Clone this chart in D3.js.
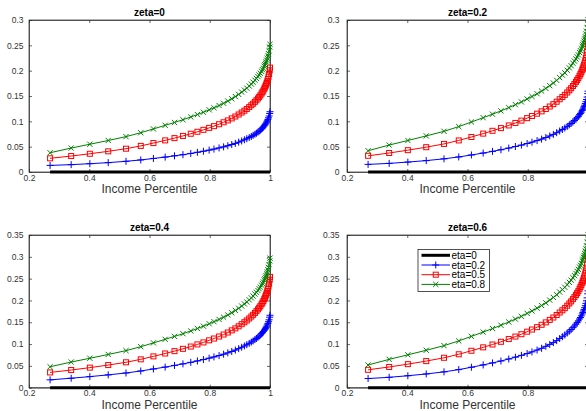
<!DOCTYPE html>
<html>
<head>
<meta charset="utf-8">
<script src="https://cdn.jsdelivr.net/npm/d3@7"></script>
<style>
  html, body { margin: 0; padding: 0; background: #fff; overflow: hidden; }
  svg { display: block; font-family: "Liberation Sans", Arial, Helvetica, sans-serif; }
</style>
</head>
<body>
<svg id="chart" width="586" height="411"></svg>
<script>
// Income percentile grid shared by every curve
const percentile = [0.270,0.340,0.402,0.463,0.522,0.571,0.613,0.652,0.683,0.711,0.737,0.759,0.779,0.798,0.814,0.831,0.846,0.860,0.873,0.885,0.896,0.906,0.915,0.923,0.931,0.938,0.944,0.950,0.955,0.960,0.964,0.968,0.972,0.975,0.978,0.981,0.983,0.985,0.987,0.989,0.991,0.993,0.995,0.997,0.999,1.000];

// eta = 0 is flat at zero in every panel
const etaZero = [0,0,0,0,0,0,0,0,0,0,0,0,0,0,0,0,0,0,0,0,0,0,0,0,0,0,0,0,0,0,0,0,0,0,0,0,0,0,0,0,0,0,0,0,0,0];

// zeta = 0
const zeta0_eta02 = [0.0130,0.0145,0.0164,0.0185,0.0211,0.0238,0.0267,0.0294,0.0319,0.0342,0.0366,0.0389,0.0410,0.0432,0.0452,0.0475,0.0496,0.0519,0.0542,0.0565,0.0589,0.0613,0.0636,0.0657,0.0680,0.0702,0.0723,0.0745,0.0765,0.0787,0.0806,0.0826,0.0850,0.0868,0.0888,0.0911,0.0928,0.0946,0.0965,0.0986,0.1011,0.1038,0.1069,0.1105,0.1154,0.1190];
const zeta0_eta05 = [0.0270,0.0315,0.0360,0.0408,0.0460,0.0515,0.0571,0.0624,0.0669,0.0712,0.0755,0.0794,0.0832,0.0871,0.0905,0.0943,0.0981,0.1018,0.1058,0.1095,0.1135,0.1174,0.1210,0.1244,0.1281,0.1317,0.1349,0.1385,0.1417,0.1451,0.1482,0.1512,0.1548,0.1577,0.1607,0.1643,0.1668,0.1697,0.1725,0.1757,0.1793,0.1834,0.1881,0.1935,0.2006,0.2060];
const zeta0_eta08 = [0.0380,0.0473,0.0548,0.0622,0.0698,0.0775,0.0850,0.0921,0.0978,0.1032,0.1086,0.1134,0.1179,0.1227,0.1267,0.1312,0.1356,0.1400,0.1445,0.1489,0.1532,0.1577,0.1617,0.1655,0.1697,0.1736,0.1772,0.1812,0.1847,0.1882,0.1916,0.1949,0.1987,0.2018,0.2050,0.2088,0.2114,0.2145,0.2175,0.2208,0.2246,0.2288,0.2337,0.2392,0.2465,0.2520];

// zeta = 0.2
const zeta02_eta02 = [0.0150,0.0170,0.0196,0.0225,0.0260,0.0297,0.0336,0.0374,0.0407,0.0439,0.0472,0.0503,0.0531,0.0562,0.0589,0.0620,0.0649,0.0680,0.0712,0.0742,0.0776,0.0809,0.0839,0.0868,0.0900,0.0930,0.0958,0.0988,0.1016,0.1046,0.1072,0.1099,0.1131,0.1156,0.1183,0.1215,0.1238,0.1263,0.1289,0.1318,0.1351,0.1388,0.1430,0.1479,0.1546,0.1595];
const zeta02_eta05 = [0.0320,0.0375,0.0431,0.0490,0.0554,0.0623,0.0691,0.0758,0.0813,0.0866,0.0919,0.0968,0.1014,0.1063,0.1105,0.1151,0.1197,0.1244,0.1292,0.1339,0.1387,0.1436,0.1480,0.1522,0.1569,0.1613,0.1653,0.1697,0.1737,0.1779,0.1816,0.1854,0.1898,0.1933,0.1971,0.2015,0.2046,0.2081,0.2117,0.2157,0.2201,0.2252,0.2309,0.2375,0.2464,0.2530];
const zeta02_eta08 = [0.0420,0.0532,0.0622,0.0712,0.0803,0.0896,0.0987,0.1072,0.1141,0.1206,0.1271,0.1329,0.1383,0.1441,0.1490,0.1544,0.1597,0.1650,0.1704,0.1756,0.1809,0.1863,0.1912,0.1957,0.2008,0.2055,0.2098,0.2147,0.2189,0.2231,0.2272,0.2311,0.2358,0.2394,0.2433,0.2479,0.2511,0.2547,0.2584,0.2624,0.2669,0.2721,0.2779,0.2845,0.2934,0.3000];

// zeta = 0.4
const zeta04_eta02 = [0.0180,0.0217,0.0254,0.0294,0.0337,0.0383,0.0429,0.0473,0.0510,0.0546,0.0581,0.0614,0.0645,0.0677,0.0705,0.0736,0.0768,0.0799,0.0831,0.0862,0.0895,0.0927,0.0957,0.0985,0.1016,0.1046,0.1072,0.1102,0.1129,0.1157,0.1182,0.1207,0.1237,0.1260,0.1286,0.1315,0.1336,0.1360,0.1383,0.1410,0.1439,0.1474,0.1512,0.1556,0.1616,0.1660];
const zeta04_eta05 = [0.0350,0.0405,0.0460,0.0519,0.0582,0.0650,0.0718,0.0784,0.0838,0.0891,0.0943,0.0992,0.1038,0.1086,0.1127,0.1173,0.1219,0.1265,0.1314,0.1360,0.1408,0.1456,0.1500,0.1541,0.1587,0.1631,0.1671,0.1714,0.1754,0.1795,0.1833,0.1870,0.1914,0.1949,0.1986,0.2030,0.2060,0.2095,0.2130,0.2170,0.2214,0.2264,0.2321,0.2387,0.2474,0.2540];
const zeta04_eta08 = [0.0480,0.0588,0.0675,0.0762,0.0850,0.0940,0.1027,0.1109,0.1176,0.1238,0.1301,0.1357,0.1410,0.1466,0.1513,0.1565,0.1616,0.1667,0.1719,0.1770,0.1821,0.1872,0.1920,0.1964,0.2013,0.2058,0.2100,0.2146,0.2187,0.2228,0.2268,0.2305,0.2350,0.2386,0.2423,0.2467,0.2498,0.2533,0.2568,0.2607,0.2651,0.2701,0.2757,0.2821,0.2907,0.2970];

// zeta = 0.6
const zeta06_eta02 = [0.0210,0.0238,0.0274,0.0315,0.0363,0.0415,0.0469,0.0522,0.0568,0.0612,0.0658,0.0700,0.0741,0.0783,0.0821,0.0863,0.0903,0.0948,0.0992,0.1034,0.1080,0.1127,0.1169,0.1209,0.1253,0.1295,0.1334,0.1376,0.1414,0.1456,0.1492,0.1531,0.1575,0.1609,0.1647,0.1691,0.1724,0.1758,0.1794,0.1834,0.1880,0.1933,0.1991,0.2059,0.2152,0.2220];
const zeta06_eta05 = [0.0410,0.0475,0.0540,0.0610,0.0686,0.0766,0.0847,0.0925,0.0990,0.1052,0.1115,0.1172,0.1226,0.1284,0.1333,0.1388,0.1442,0.1497,0.1554,0.1609,0.1666,0.1723,0.1775,0.1824,0.1879,0.1931,0.1978,0.2030,0.2077,0.2126,0.2170,0.2214,0.2266,0.2308,0.2352,0.2404,0.2441,0.2482,0.2524,0.2571,0.2623,0.2682,0.2750,0.2828,0.2932,0.3010];
const zeta06_eta08 = [0.0520,0.0650,0.0754,0.0858,0.0964,0.1072,0.1177,0.1275,0.1355,0.1431,0.1506,0.1573,0.1636,0.1703,0.1760,0.1823,0.1884,0.1945,0.2008,0.2069,0.2130,0.2192,0.2249,0.2301,0.2360,0.2415,0.2465,0.2521,0.2570,0.2619,0.2667,0.2712,0.2765,0.2808,0.2853,0.2906,0.2943,0.2986,0.3028,0.3075,0.3127,0.3186,0.3254,0.3331,0.3434,0.3510];

const panelTitles = ["zeta=0", "zeta=0.2", "zeta=0.4", "zeta=0.6"];
const legendLabels = ["eta=0", "eta=0.2", "eta=0.5", "eta=0.8"];
const xLabel = "Income Percentile";
const xDomain = [0.2, 1];
const xTicks = [0.2, 0.4, 0.6, 0.8, 1];
const yTicksLow = [0, 0.05, 0.1, 0.15, 0.2, 0.25, 0.3];
const yTicksHigh = [0, 0.05, 0.1, 0.15, 0.2, 0.25, 0.3, 0.35];

// Line / marker styles, one per eta value
const styles = [
  { color: "#000000", width: 3, marker: null },
  { color: "#0000ff", width: 1, marker: "plus" },
  { color: "#ff0000", width: 1, marker: "square" },
  { color: "#008000", width: 1, marker: "cross" }
];

const W = 586;
const panels = [
  { title: panelTitles[0], left: 29,  top: 20,  w: 241, h: 152,   yMax: 0.3,  yTicks: yTicksLow,  series: [etaZero, zeta0_eta02, zeta0_eta05, zeta0_eta08], labelGap: 2.5 },
  { title: panelTitles[1], left: 347, top: 20,  w: 241, h: 152,   yMax: 0.3,  yTicks: yTicksLow,  series: [etaZero, zeta02_eta02, zeta02_eta05, zeta02_eta08], labelGap: 4.5 },
  { title: panelTitles[2], left: 29,  top: 235, w: 241, h: 152.7, yMax: 0.35, yTicks: yTicksHigh, series: [etaZero, zeta04_eta02, zeta04_eta05, zeta04_eta08], labelGap: 2.5 },
  { title: panelTitles[3], left: 347, top: 235, w: 241, h: 152.7, yMax: 0.35, yTicks: yTicksHigh, series: [etaZero, zeta06_eta02, zeta06_eta05, zeta06_eta08], labelGap: 4.5, legend: true }
];

const svg = d3.select("#chart");
const axisColor = "#262626";
const textColor = "#333333";
const fmt = d3.format("~g");

function drawMarker(g, type, color) {
  if (type === "plus") {
    g.append("path").attr("d", "M-3.5,0H3.5M0,-3.5V3.5")
      .attr("stroke", color).attr("stroke-width", 1).attr("fill", "none");
  } else if (type === "square") {
    g.append("rect").attr("x", -2.5).attr("y", -2.5).attr("width", 5).attr("height", 5)
      .attr("stroke", color).attr("stroke-width", 1).attr("fill", "none");
  } else if (type === "cross") {
    g.append("path").attr("d", "M-2.6,-2.6L2.6,2.6M-2.6,2.6L2.6,-2.6")
      .attr("stroke", color).attr("stroke-width", 1).attr("fill", "none");
  }
}

panels.forEach(p => {
  const x = d3.scaleLinear().domain(xDomain).range([p.left, p.left + p.w]);
  const y = d3.scaleLinear().domain([0, p.yMax]).range([p.top + p.h, p.top]);
  const g = svg.append("g");

  // Frame
  g.append("rect")
    .attr("x", p.left).attr("y", p.top).attr("width", p.w).attr("height", p.h)
    .attr("fill", "#fff").attr("stroke", axisColor).attr("stroke-width", 0.7);

  // Axes with inward ticks (bottom/left labelled, top/right mirrored)
  const xAxisB = d3.axisBottom(x).tickValues(xTicks).tickFormat(fmt).tickSizeInner(-3).tickSizeOuter(0).tickPadding(2.5);
  const xAxisT = d3.axisTop(x).tickValues(xTicks).tickFormat("").tickSizeInner(-3).tickSizeOuter(0);
  const yAxisL = d3.axisLeft(y).tickValues(p.yTicks).tickFormat(fmt).tickSizeInner(-3).tickSizeOuter(0).tickPadding(p.labelGap + 3);
  const yAxisR = d3.axisRight(y).tickValues(p.yTicks).tickFormat("").tickSizeInner(-3).tickSizeOuter(0);

  const axB = g.append("g").attr("transform", `translate(0,${p.top + p.h})`).call(xAxisB);
  const axT = g.append("g").attr("transform", `translate(0,${p.top})`).call(xAxisT);
  const axL = g.append("g").attr("transform", `translate(${p.left},0)`).call(yAxisL);
  const axR = g.append("g").attr("transform", `translate(${p.left + p.w},0)`).call(yAxisR);
  [axB, axT, axL, axR].forEach(a => {
    a.select(".domain").attr("stroke", axisColor).attr("stroke-width", 0.7);
    a.selectAll(".tick line").attr("stroke", axisColor).attr("stroke-width", 0.7);
    a.selectAll(".tick text").attr("fill", textColor).style("font-size", "8.5px")
      .style("font-family", "'Liberation Sans', Arial, sans-serif");
  });
  // A tick label that would fall past the page edge is not drawn
  axB.selectAll(".tick").filter(d => x(d) + 3 > W).select("text").remove();

  // Curves
  p.series.forEach((vals, si) => {
    const st = styles[si];
    const pts = percentile.map((px, i) => [px, vals[i]]);
    const line = d3.line().x(d => x(d[0])).y(d => y(d[1]));
    g.append("path").datum(pts)
      .attr("d", line).attr("fill", "none")
      .attr("stroke", st.color).attr("stroke-width", st.width)
      .attr("stroke-linejoin", "round");
    if (st.marker) {
      pts.forEach(d => {
        const m = g.append("g").attr("transform", `translate(${x(d[0])},${y(d[1])})`);
        drawMarker(m, st.marker, st.color);
      });
    }
  });

  // Title
  g.append("text")
    .attr("x", p.left + p.w / 2).attr("y", p.top - 4)
    .attr("text-anchor", "middle")
    .style("font-size", "10px").style("font-weight", "bold").attr("fill", "#000")
    .text(p.title);

  // X label
  g.append("text")
    .attr("x", p.left + p.w / 2).attr("y", p.top + p.h + 21.3)
    .attr("text-anchor", "middle")
    .style("font-size", "12px").attr("fill", textColor)
    .text(xLabel);

  // Legend
  if (p.legend) {
    const lx = 418, ly = 249.5, lw = 71.5, lh = 42;
    const lg = svg.append("g");
    lg.append("rect").attr("x", lx).attr("y", ly).attr("width", lw).attr("height", lh)
      .attr("fill", "#fff").attr("stroke", axisColor).attr("stroke-width", 0.8);
    legendLabels.forEach((lab, i) => {
      const st = styles[i];
      const cy = ly + 5.8 + i * 9.7;
      lg.append("line").attr("x1", lx + 3.5).attr("x2", lx + 32).attr("y1", cy).attr("y2", cy)
        .attr("stroke", st.color).attr("stroke-width", st.width);
      if (st.marker) {
        const m = lg.append("g").attr("transform", `translate(${lx + 17.75},${cy})`);
        drawMarker(m, st.marker, st.color);
      }
      lg.append("text").attr("x", lx + 33.5).attr("y", cy + 3.5)
        .style("font-size", "10px").attr("fill", "#000").text(lab);
    });
  }
});
</script>
</body>
</html>
